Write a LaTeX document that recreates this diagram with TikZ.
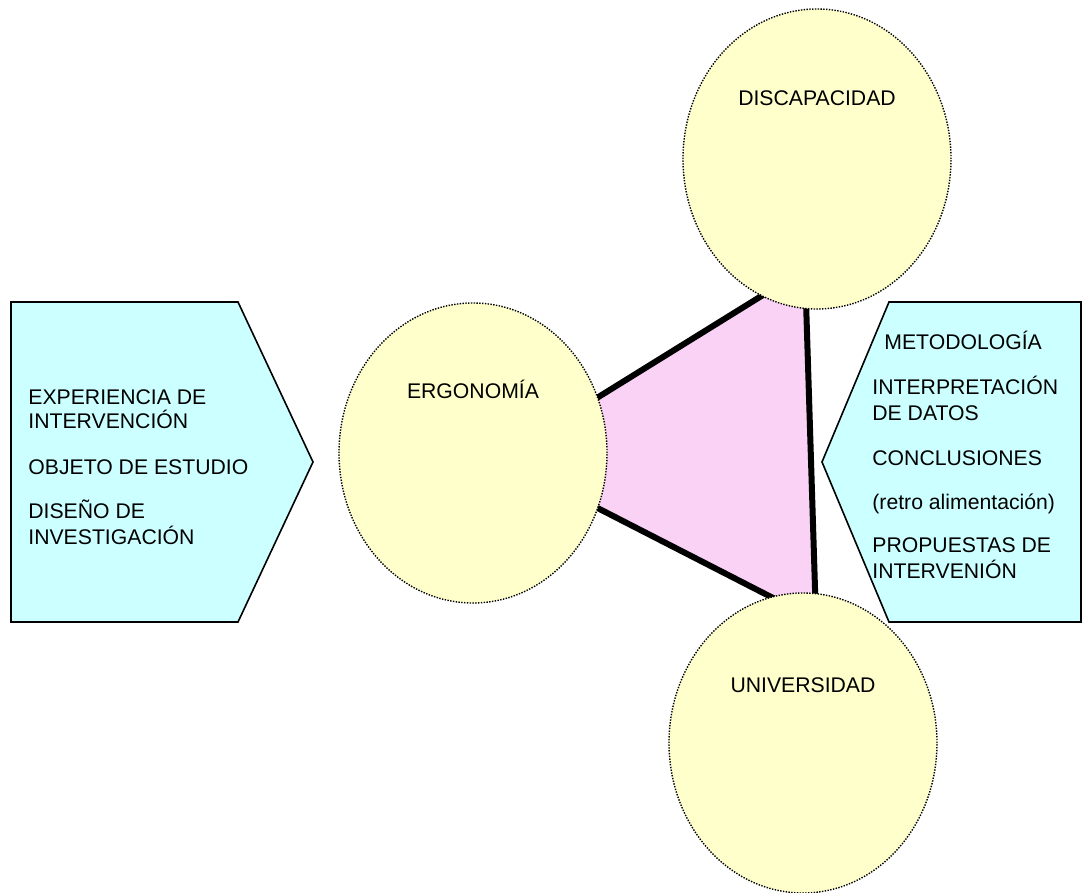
\documentclass[tikz,border=0pt]{standalone}
\usepackage{fontspec}
\setmainfont{Liberation Sans}
\usetikzlibrary{shapes.geometric}
\definecolor{bubblefill}{HTML}{FFFFCC}
\definecolor{boxfill}{HTML}{CCFFFF}
\definecolor{linkfill}{RGB}{250,210,246}

\begin{document}
\begin{tikzpicture}[x=0.5pt,y=-0.5pt,
  bubble/.style={ellipse,draw,dash pattern=on 0.7pt off 0.7pt,line width=0.7pt,fill=bubblefill,
    minimum width=134pt,minimum height=150pt,inner sep=0pt},
  tag/.style={inner sep=0pt,anchor=base,font=\fontsize{10.6}{12.5}\selectfont},
  item/.style={tag,anchor=base west},
  panel/.style={draw,line width=0.8pt,fill=boxfill,line join=miter}]
\useasboundingbox (0,0) rectangle (1082,893);

\draw[panel] (11,302) -- (238,302) -- (313,462) -- (238,622) -- (11,622) -- cycle;
\draw[panel] (889,302) -- (1081,302) -- (1081,622) -- (889,622) -- (822,462) -- cycle;

\coordinate (ergpt) at (500,458);
\coordinate (dispt) at (805,269);
\coordinate (unipt) at (816,620);
\draw[line width=3pt,fill=linkfill] (ergpt) -- (dispt) -- (unipt) -- cycle;

\node[bubble] (erg) at (473,453) {};
\node[bubble] (dis) at (817,159) {};
\node[bubble] (uni) at (803,743) {};

\node[tag] (ergname) at ([yshift=27pt]erg.center) {ERGONOMÍA};
\node[tag] (disname) at ([yshift=26.5pt]dis.center) {DISCAPACIDAD};
\node[tag] (uniname) at ([yshift=25.5pt]uni.center) {UNIVERSIDAD};

\node[item] (exp1) at (28,404) {EXPERIENCIA DE};
\node[item] (exp2) at (28,429) {INTERVENCIÓN};
\node[item] (obj) at (28,474) {OBJETO DE ESTUDIO};
\node[item] (dis1) at (28,518) {DISEÑO DE};
\node[item] (dis2) at (28,544) {INVESTIGACIÓN};

\node[item] (met) at (884,350) {METODOLOGÍA};
\node[item] (int1) at (872,394) {INTERPRETACIÓN};
\node[item] (int2) at (872,420) {DE DATOS};
\node[item] (con) at (872,465) {CONCLUSIONES};
\node[item] (ret) at (872,509) {(retro alimentación)};
\node[item] (pro1) at (872,552) {PROPUESTAS DE};
\node[item] (pro2) at (872,578) {INTERVENIÓN};
\end{tikzpicture}
\end{document}
